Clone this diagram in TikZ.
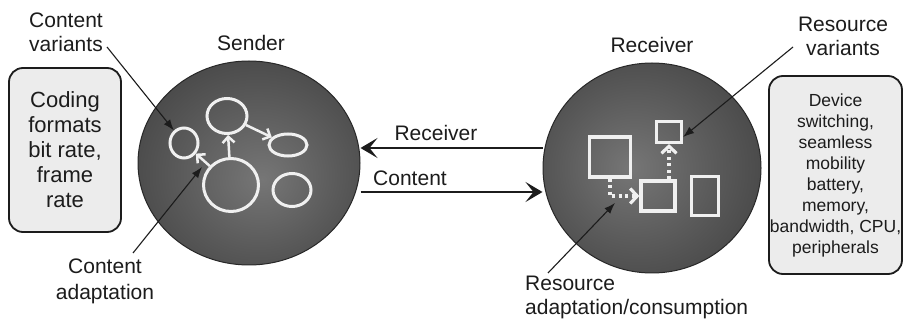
\documentclass[tikz,border=0pt]{standalone}
\usepackage{fontspec}
\setmainfont{Liberation Sans}
\usetikzlibrary{shapes.geometric,arrows.meta,calc}

\definecolor{ink}{HTML}{1C1C1C}
\definecolor{boxfill}{HTML}{ECECEC}
\definecolor{chalk}{HTML}{F0F0F0}
\definecolor{ballhi}{HTML}{767676}
\definecolor{ballmid}{HTML}{5A5A5A}
\definecolor{balllo}{HTML}{393939}
\definecolor{balledge}{HTML}{282828}

% soft lit discs for the two end points
\pgfdeclareradialshading{senderball}{\pgfpoint{3bp}{-4bp}}{color(0bp)=(ballhi); color(18bp)=(ballmid); color(40bp)=(balllo); color(50bp)=(balledge); color(62bp)=(balledge)}
\pgfdeclareradialshading{receiverball}{\pgfpoint{-5bp}{0bp}}{color(0bp)=(ballhi); color(18bp)=(ballmid); color(40bp)=(balllo); color(50bp)=(balledge); color(62bp)=(balledge)}

\tikzset{
  ball/.style={ellipse, draw=balledge, line width=1pt, inner sep=0pt},
  infobox/.style={draw=ink, line width=1.8pt, fill=boxfill, rounded corners=14pt,
                  inner sep=0pt, align=center, text=ink},
  txt/.style={font=\fontsize{21}{24}\selectfont, text=ink, align=center, inner sep=0pt},
  chalkring/.style={ellipse, draw=chalk, line width=3pt, inner sep=0pt},
  chalkbox/.style={rectangle, draw=chalk, line width=3.2pt, inner sep=0pt},
  chalkarrow/.style={draw=chalk, line width=2.5pt, -{Straight Barb[length=6pt,width=12pt]}},
  chalkdots/.style={draw=chalk, line width=3.2pt, dash pattern=on 3pt off 3.5pt,
                    -{Straight Barb[length=7pt,width=15pt]}},
  pointer/.style={draw=ink, line width=1.1pt, -{Latex[length=11pt,width=8pt]}},
  flow/.style={draw=ink, line width=2.6pt, -{Stealth[length=17pt,width=20pt,inset=8pt]}}
}

\begin{document}
\begin{tikzpicture}[x=1pt,y=-1pt]
\useasboundingbox[fill=white] (0,0) rectangle (905,320);

% side boxes
\node[infobox, minimum width=112pt, minimum height=164pt,
      font=\fontsize{22}{25}\selectfont] (codingbox) at (65,150)
  {Coding\\formats\\bit rate,\\frame\\rate};
\node[infobox, minimum width=133pt, minimum height=198pt,
      font=\fontsize{17.5}{21}\selectfont] (devicebox) at (835.5,175)
  {Device\\switching,\\seamless\\mobility\\battery,\\memory,\\bandwidth, CPU,\\peripherals};

% the two parties
\node[ball, shading=senderball, minimum width=222pt, minimum height=204pt] (sender) at (249,163) {};
\node[ball, shading=receiverball, minimum width=218pt, minimum height=210pt] (receiver) at (652,168) {};

\node[txt] (sendertitle) at (251,43) {Sender};
\node[txt] (receivertitle) at (652,45) {Receiver};

% content variants inside the sender
\node[chalkring, minimum width=28pt, minimum height=30pt] (sv) at (184,143) {};
\node[chalkring, minimum width=40pt, minimum height=35pt] (st) at (227,116) {};
\node[chalkring, minimum width=38pt, minimum height=22pt] (sr) at (288,145) {};
\node[chalkring, minimum width=55pt, minimum height=53pt] (sb) at (231,185) {};
\node[chalkring, minimum width=38pt, minimum height=33pt] (sc) at (292,190) {};
\draw[chalkarrow] (sb) -- (st);
\draw[chalkarrow] (st) -- (sr);
\draw[chalkarrow] (sb) -- (sv);

% resource variants inside the receiver
\node[chalkbox, minimum width=41pt, minimum height=40pt] (bigsq) at (610,157) {};
\node[chalkbox, minimum width=25pt, minimum height=21pt] (topsq) at (669,132) {};
\node[chalkbox, minimum width=34pt, minimum height=30pt] (midsq) at (658,196) {};
\node[chalkbox, minimum width=27pt, minimum height=39pt] (rightsq) at (705,196) {};
\draw[chalkdots] (bigsq.south) |- (midsq.west);
\draw[chalkdots] (midsq.north -| topsq.south) -- (topsq.south);

% exchange between the parties
\draw[flow] (receiver.west |- 0,148) -- (sender.east |- 0,148);
\draw[flow] (sender.east |- 0,192) -- (receiver.west |- 0,192);
\node[txt] (recvflow) at (436,133) {Receiver};
\node[txt] (contflow) at (410,178) {Content};

% callouts
\node[txt] (cvlabel) at (66,32) {Content\\variants};
\node[txt, font=\fontsize{21}{26}\selectfont] (calabel) at (105,281) {Content\\adaptation};
\node[txt] (rvlabel) at (843,36) {Resource\\variants};
\node[txt, align=left, anchor=west] (ralabel) at (525,297) {Resource\\adaptation/consumption};

\coordinate (cvfoot) at (107,47);
\coordinate (cafoot) at (133,253);
\coordinate (catip) at (202,167);
\coordinate (rvfoot) at (793,47);
\coordinate (rafoot) at (548,273);
\coordinate (ratip) at (615,203);

\draw[pointer] (cvfoot) -- (sv);
\draw[pointer] (cafoot) -- (catip);
\draw[pointer] (rvfoot) -- ([yshift=-5pt]topsq.east);
\draw[pointer] (rafoot) -- (ratip);
\end{tikzpicture}
\end{document}
